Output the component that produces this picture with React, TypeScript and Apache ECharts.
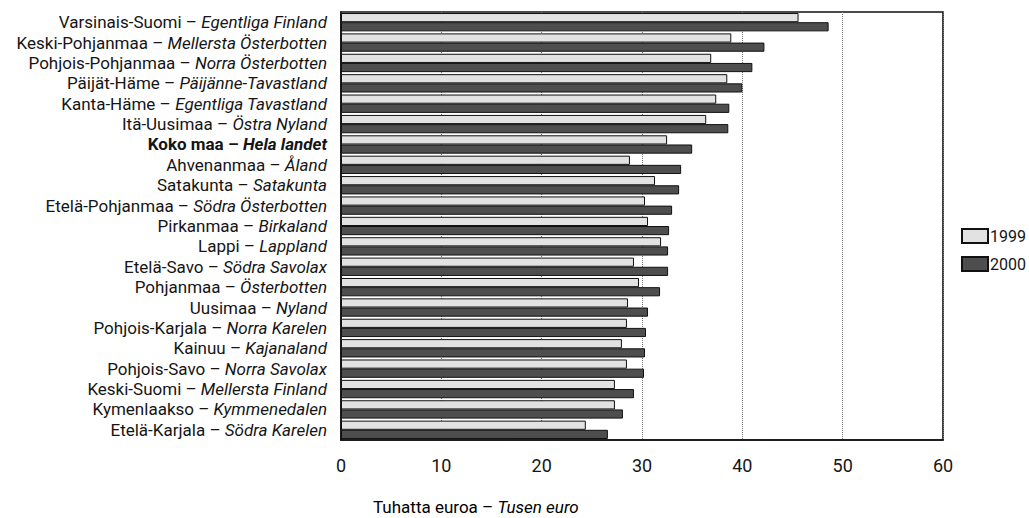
import React, { useEffect, useRef } from "react";
import * as echarts from "echarts";

const regionsFi = [
  "Varsinais-Suomi",
  "Keski-Pohjanmaa",
  "Pohjois-Pohjanmaa",
  "Päijät-Häme",
  "Kanta-Häme",
  "Itä-Uusimaa",
  "Koko maa",
  "Ahvenanmaa",
  "Satakunta",
  "Etelä-Pohjanmaa",
  "Pirkanmaa",
  "Lappi",
  "Etelä-Savo",
  "Pohjanmaa",
  "Uusimaa",
  "Pohjois-Karjala",
  "Kainuu",
  "Pohjois-Savo",
  "Keski-Suomi",
  "Kymenlaakso",
  "Etelä-Karjala",
];

const regionsSv = [
  "Egentliga Finland",
  "Mellersta Österbotten",
  "Norra Österbotten",
  "Päijänne-Tavastland",
  "Egentliga Tavastland",
  "Östra Nyland",
  "Hela landet",
  "Åland",
  "Satakunta",
  "Södra Österbotten",
  "Birkaland",
  "Lappland",
  "Södra Savolax",
  "Österbotten",
  "Nyland",
  "Norra Karelen",
  "Kajanaland",
  "Norra Savolax",
  "Mellersta Finland",
  "Kymmenedalen",
  "Södra Karelen",
];

const values1999 = [
  45.6, 38.9, 36.9, 38.5, 37.4, 36.4, 32.5, 28.8, 31.3, 30.3, 30.6, 31.9, 29.2,
  29.7, 28.6, 28.5, 28.0, 28.5, 27.3, 27.3, 24.4,
];

const values2000 = [
  48.6, 42.2, 41.0, 40.0, 38.7, 38.6, 35.0, 33.9, 33.7, 33.0, 32.7, 32.6, 32.6,
  31.8, 30.6, 30.4, 30.3, 30.2, 29.2, 28.1, 26.6,
];

const xTicks = { min: 0, max: 60, interval: 10 };
const seriesNames = ["1999", "2000"];
const totalIndex = 6;

const FONT = "'Roboto', sans-serif";
const TEXT = "#151515";

export default function App() {
  const ref = useRef<HTMLDivElement>(null);

  useEffect(() => {
    document.body.style.margin = "0";
    if (!ref.current) return;
    const chart = echarts.init(ref.current, null, { renderer: "svg" });
    const base = { fontFamily: FONT, fontSize: 17, color: TEXT };
    chart.setOption({
      animation: false,
      backgroundColor: "#ffffff",
      textStyle: { fontFamily: FONT },
      grid: {
        left: 341,
        right: 86,
        top: 12,
        bottom: 78,
        show: true,
        borderColor: "#111",
        borderWidth: 1.6,
        backgroundColor: "transparent",
      },
      legend: {
        orient: "vertical",
        left: 956,
        top: 223,
        icon: "rect",
        itemWidth: 26,
        itemHeight: 14,
        itemGap: 12,
        data: seriesNames,
        textStyle: { ...base, fontSize: 16, padding: [0, 0, 0, -3] },
      },
      xAxis: {
        type: "value",
        min: xTicks.min,
        max: xTicks.max,
        interval: xTicks.interval,
        axisLine: { show: true, lineStyle: { color: "#111", width: 1.6 } },
        axisTick: { show: false },
        axisLabel: { ...base, fontSize: 18, margin: 16 },
        splitLine: {
          show: true,
          lineStyle: { type: "dotted", color: "#777", width: 1 },
        },
      },
      yAxis: {
        type: "category",
        inverse: true,
        data: regionsFi,
        axisLine: { show: true, lineStyle: { color: "#111", width: 1.6 } },
        axisTick: { show: false },
        axisLabel: {
          margin: 14,
          interval: 0,
          formatter: (value: string, index: number) =>
            index === totalIndex
              ? `{b|${value} – }{bi|${regionsSv[index]}}`
              : `{n|${value} – }{i|${regionsSv[index]}}`,
          rich: {
            n: { ...base },
            i: { ...base, fontStyle: "italic" },
            b: { ...base, fontWeight: "bold" },
            bi: { ...base, fontWeight: "bold", fontStyle: "italic" },
          },
        },
      },
      series: [
        {
          name: seriesNames[0],
          type: "bar",
          data: values1999,
          barGap: "0%",
          barCategoryGap: "10%",
          itemStyle: { color: "#e2e2e2", borderColor: "#111", borderWidth: 1 },
        },
        {
          name: seriesNames[1],
          type: "bar",
          data: values2000,
          barGap: "0%",
          barCategoryGap: "10%",
          itemStyle: { color: "#4e4e4e", borderColor: "#111", borderWidth: 1 },
        },
      ],
      graphic: [
        {
          type: "text",
          left: 373,
          top: 498,
          style: {
            text: "{n|Tuhatta euroa – }{i|Tusen euro}",
            rich: {
              n: { ...base },
              i: { ...base, fontStyle: "italic" },
            },
          },
        },
      ],
    });
    return () => chart.dispose();
  }, []);

  return <div ref={ref} style={{ width: 1029, height: 518 }} />;
}
